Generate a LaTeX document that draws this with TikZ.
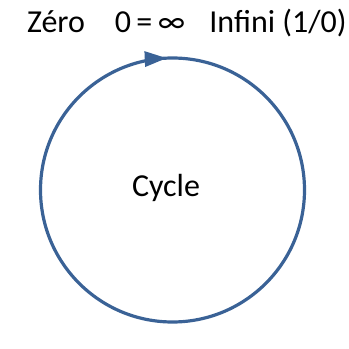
\documentclass[tikz,border=0pt]{standalone}
\usepackage{fontspec}
\setmainfont{Carlito}
\usetikzlibrary{arrows.meta, math}
\definecolor{cycblue}{RGB}{58,98,150}

\begin{document}
\begin{tikzpicture}[x=1pt,y=1pt]
\tikzmath{
\R=132;
\tip=92.5;
}
\useasboundingbox (0,0) rectangle (349,349);
\tikzset{lbl/.style={font=\fontsize{32}{38}\selectfont, anchor=base},
cyc/.style={color=cycblue, line width=3.2pt}}
\coordinate (C) at (172.5,159);%centre of circle

%circle and arrow
\draw[cyc] (C) circle (\R);
\draw[cyc, -{Triangle[length=22pt,width=15pt]}] ([shift={(102:\R)}]C) arc (102:\tip:\R);

%labels
\node[lbl] (zero) at (56,316) {Zéro};
\node[lbl] (eq) at (150,316) {0\,=\,∞};
\node[lbl] (inf) at (278,316) {Infini (1/0)};
\node[lbl] (cycle) at (166,152) {Cycle};
\end{tikzpicture}
\end{document}
